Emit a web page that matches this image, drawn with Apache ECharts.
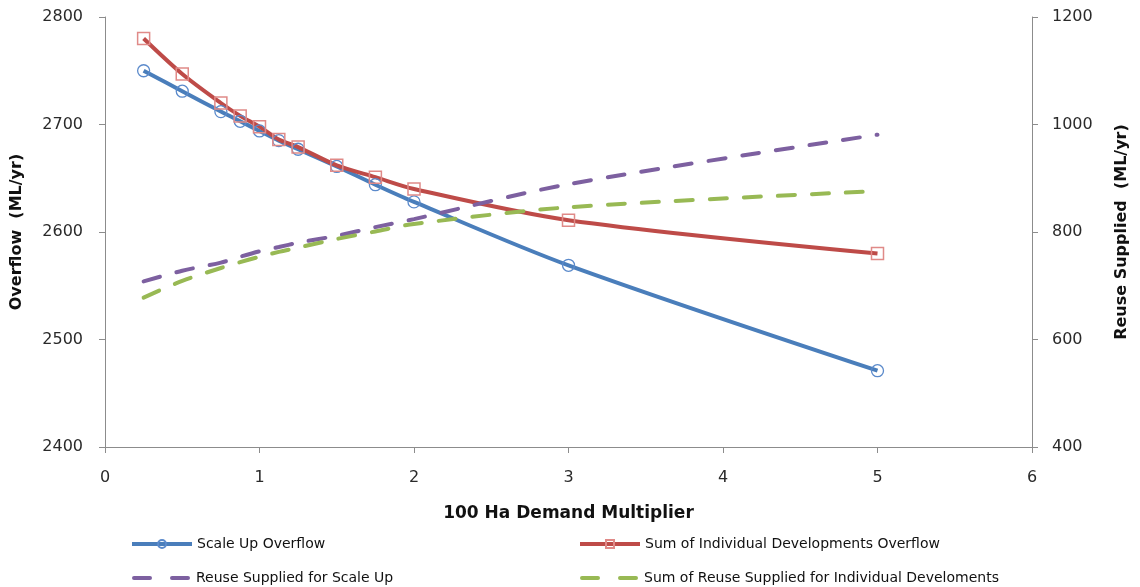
<!DOCTYPE html>
<html>
<head>
<meta charset="utf-8">
<script src="https://cdn.jsdelivr.net/npm/echarts@6/dist/echarts.min.js"></script>
<style>html,body{margin:0;padding:0;background:#fff}#c{width:1140px;height:587px}</style>
</head>
<body>
<div id="c"></div>
<script>
const xValues = [0.25, 0.5, 0.75, 0.875, 1, 1.125, 1.25, 1.5, 1.75, 2, 3, 5];
const scaleUpOverflow = [2750, 2731, 2712, 2703, 2694, 2685, 2677, 2661, 2644, 2628, 2569, 2471];
const sumIndivOverflow = [2780, 2747, 2720, 2708, 2698, 2686, 2679, 2662, 2651, 2640, 2611, 2580];
const reuseScaleUp = [708, 728, 743, 754, 764, 772, 780, 793, 809, 824, 889, 981];
const reuseIndiv = [678, 709, 733, 744, 754, 763, 771, 787, 801, 815, 846, 876];
const seriesNames = ['Scale Up Overflow', 'Sum of Individual Developments Overflow', 'Reuse Supplied for Scale Up', 'Sum of Reuse Supplied for Individual Develoments'];

const pairs = arr => xValues.map((x, i) => [x, arr[i]]);
const tickFont = {fontFamily: 'DejaVu Sans', fontSize: 16, color: '#2a2a2a', formatter: v => String(v)};
const titleFont = {fontFamily: 'DejaVu Sans', fontSize: 16, fontWeight: 'bold', color: '#111'};
const axisLine = {show: true, lineStyle: {color: '#8c8c8c', width: 1}};
const tick = {show: true, length: 6, lineStyle: {color: '#8c8c8c'}};
const legendText = {fontFamily: 'DejaVu Sans', fontSize: 14, color: '#111'};
const legendBase = {itemGap: 6, textStyle: legendText, padding: 0};
const dashIcon = 'path://M2,0h16a2,2 0 0 1 0,4h-16a2,2 0 0 1 0,-4z M40,0h16a2,2 0 0 1 0,4h-16a2,2 0 0 1 0,-4z';

const chart = echarts.init(document.getElementById('c'), null, {renderer: 'canvas'});
chart.setOption({
  animation: false,
  backgroundColor: '#fff',
  grid: {left: 105, right: 108, top: 17, bottom: 140, containLabel: false},
  xAxis: {
    type: 'value', min: 0, max: 6, interval: 1,
    name: '100 Ha Demand Multiplier', nameLocation: 'middle', nameGap: 58, nameTextStyle: Object.assign({}, titleFont, {fontSize: 17}),
    axisLine: axisLine, axisTick: tick,
    axisLabel: Object.assign({margin: 23}, tickFont), splitLine: {show: false}
  },
  yAxis: [{
    type: 'value', min: 2400, max: 2800, interval: 100, position: 'left',
    name: 'Overflow  (ML/yr)', nameLocation: 'middle', nameGap: 80, nameRotate: 90, nameTextStyle: titleFont,
    axisLine: axisLine, axisTick: tick,
    axisLabel: Object.assign({margin: 22}, tickFont), splitLine: {show: false}
  }, {
    type: 'value', min: 400, max: 1200, interval: 200, position: 'right',
    name: 'Reuse Supplied  (ML/yr)', nameLocation: 'middle', nameGap: 82, nameRotate: 90, nameTextStyle: titleFont,
    axisLine: axisLine, axisTick: tick,
    axisLabel: Object.assign({margin: 20}, tickFont), splitLine: {show: false}
  }],
  legend: [
    Object.assign({data: [{name: seriesNames[0]}], left: 130, top: 537, itemWidth: 60, itemHeight: 10, lineStyle: {width: 4}}, legendBase),
    Object.assign({data: [{name: seriesNames[1]}], left: 578, top: 537, itemWidth: 60, itemHeight: 10, lineStyle: {width: 4}}, legendBase),
    Object.assign({data: [{name: seriesNames[2], icon: dashIcon}], left: 132, top: 571, itemWidth: 60, itemHeight: 4}, legendBase),
    Object.assign({data: [{name: seriesNames[3], icon: dashIcon}], left: 580, top: 571, itemWidth: 60, itemHeight: 4}, legendBase)
  ],
  series: [{
    name: seriesNames[0], type: 'line', yAxisIndex: 0, data: pairs(scaleUpOverflow), smooth: 0.3,
    symbol: 'circle', symbolSize: 12,
    lineStyle: {color: '#4A7EBB', width: 4},
    itemStyle: {color: 'rgba(255,255,255,0)', borderColor: '#5B8ACB', borderWidth: 1.3}
  }, {
    name: seriesNames[1], type: 'line', yAxisIndex: 0, data: pairs(sumIndivOverflow), smooth: 0.3,
    symbol: 'rect', symbolSize: 12,
    lineStyle: {color: '#BE4B48', width: 4},
    itemStyle: {color: 'rgba(255,255,255,0)', borderColor: '#E08A88', borderWidth: 1.5}
  }, {
    name: seriesNames[2], type: 'line', yAxisIndex: 1, data: pairs(reuseScaleUp), smooth: 0.3,
    symbol: 'none', showSymbol: false,
    lineStyle: {color: '#7D60A0', width: 4, type: [17, 17], cap: 'round'}, itemStyle: {color: '#7D60A0'}
  }, {
    name: seriesNames[3], type: 'line', yAxisIndex: 1, data: pairs(reuseIndiv), smooth: 0.3,
    symbol: 'none', showSymbol: false,
    lineStyle: {color: '#98B954', width: 4, type: [17, 17], cap: 'round'}, itemStyle: {color: '#98B954'}
  }]
});
</script>
</body>
</html>
